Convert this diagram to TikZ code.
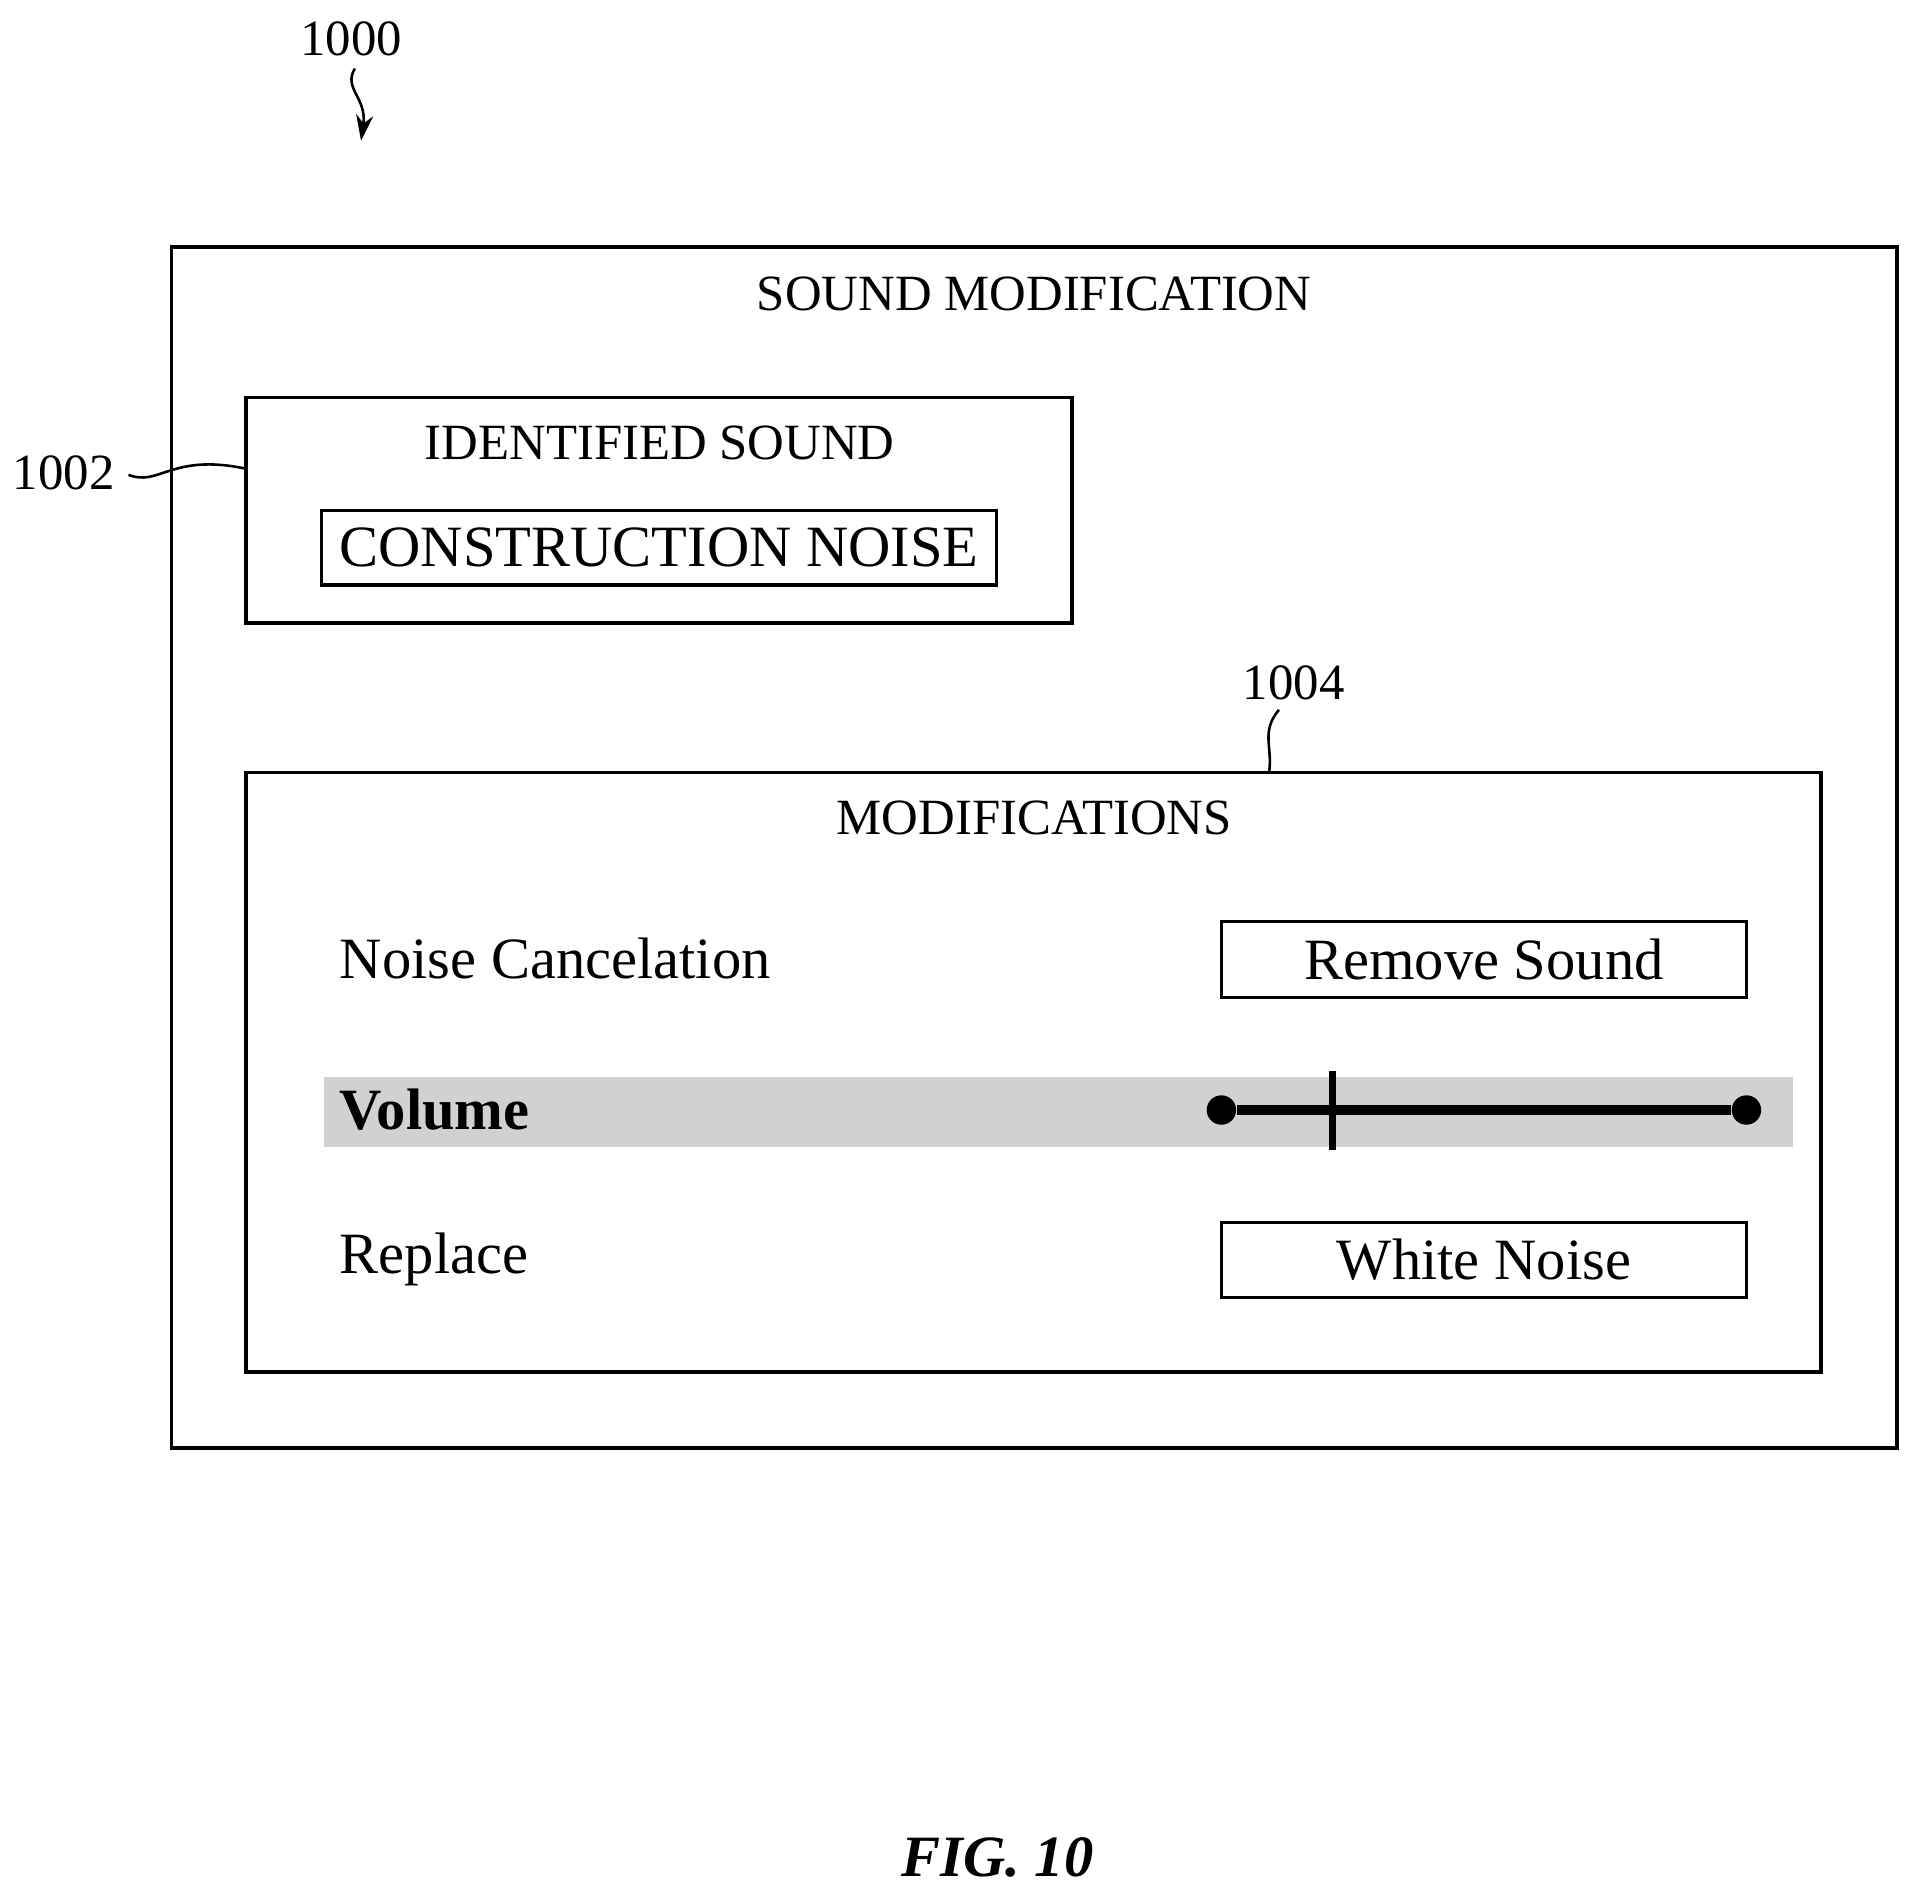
\documentclass[tikz,border=0pt]{standalone}
\usepackage{fontspec}
\setmainfont{Liberation Serif}
\usetikzlibrary{arrows.meta}
\begin{document}
\begin{tikzpicture}[x=0.01cm,y=-0.01cm,
  box/.style={draw,line width=0.8pt},
  lbl/.style={font=\fontsize{11.8}{14}\selectfont},
  big/.style={font=\fontsize{13.6}{16}\selectfont},
  lead/.style={line width=0.6pt}]
\useasboundingbox (0,0) rectangle (1568,1552);
\draw[box] (140,202) rectangle (1550,1183);
\node[lbl] (t1) at (845,240) {SOUND MODIFICATION};
\draw[box] (201,325) rectangle (876,509);
\coordinate (ids) at (201,383);
\node[lbl] (t2) at (539,362) {IDENTIFIED SOUND};
\node[big,draw,line width=0.8pt,minimum width=5.51cm,minimum height=0.61cm,inner sep=0pt] (cn) at (538.5,447.5) {CONSTRUCTION NOISE};
\draw[box] (201,631) rectangle (1488,1121);
\coordinate (mods) at (1037,631);
\node[lbl] (t3) at (845,668) {MODIFICATIONS};
\node[big,anchor=west,inner sep=0pt] (nc) at (277,783) {Noise Cancelation};
\node[big,draw,line width=0.8pt,minimum width=4.29cm,minimum height=0.62cm,inner sep=0pt] (rs) at (1212.5,784) {Remove Sound};
\fill[black!18] (265,880) rectangle (1465,937);
\node[big,anchor=west,inner sep=0pt,font=\fontsize{13.6}{16}\selectfont\bfseries] (vol) at (277,907) {Volume};
\node[circle,fill,inner sep=0pt,minimum size=0.24cm] (s1) at (998,907) {};
\node[circle,fill,inner sep=0pt,minimum size=0.24cm] (s2) at (1427,907) {};
\draw[line width=2.2pt] (s1) -- (s2);
\coordinate (k1) at (1089,875); \coordinate (k2) at (1089,940);
\draw[line width=1.6pt] (k1) -- (k2);
\node[big,anchor=west,inner sep=0pt] (rp) at (277,1029) {Replace};
\node[big,draw,line width=0.8pt,minimum width=4.29cm,minimum height=0.61cm,inner sep=0pt] (wn) at (1212.5,1029.5) {White Noise};
\node[lbl] (n1000) at (287,32) {1000};
\coordinate (a0) at (290,56); \coordinate (a1) at (295,115);
\draw[lead,-{Stealth[length=6pt,width=4pt]}] (a0) .. controls (280,72) and (300,80) .. (a1);
\node[lbl] (n1002) at (52,386) {1002};
\coordinate (b0) at (105,388);
\draw[lead] (b0) .. controls (130,398) and (140,370) .. (ids);
\node[lbl] (n1004) at (1057,558) {1004};
\coordinate (c0) at (1045,580);
\draw[lead] (c0) .. controls (1030,598) and (1040,610) .. (mods);
\node[font=\fontsize{13.6}{16}\selectfont\bfseries\itshape] (fig) at (815,1518) {FIG. 10};
\end{tikzpicture}
\end{document}
